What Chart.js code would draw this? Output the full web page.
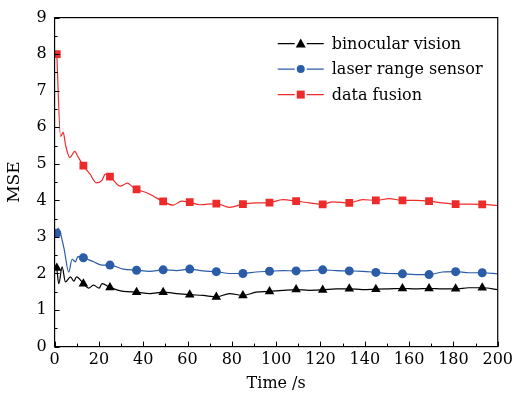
<!DOCTYPE html>
<html>
<head>
<meta charset="utf-8">
<script src="https://cdn.jsdelivr.net/npm/chart.js@4/dist/chart.umd.min.js"></script>
<style>
  html, body { margin: 0; padding: 0; background: #fff; }
  #wrap { width: 517px; height: 393px; }
</style>
</head>
<body>
<div id="wrap"><canvas id="mse-chart" width="517" height="393"></canvas></div>
<script>
// times where the markers sit
const markerTimes = [1, 13, 25, 37, 49, 61, 73, 85, 97, 109, 121, 133, 145, 157, 169, 181, 193];

const binocularTime = [1, 1.9, 3.4, 4.9, 7.2, 8.7, 9.9, 13, 15.4, 17.6, 20.1, 21.4, 25, 31, 37, 43, 49, 55, 61, 67, 73, 79, 85, 91, 97, 103, 109, 115, 121, 127, 133, 139, 145, 151, 157, 163, 169, 175, 181, 187, 193, 200];
const binocularMse = [2.15, 1.72, 2.18, 1.77, 1.91, 1.79, 1.91, 1.72, 1.6, 1.68, 1.6, 1.72, 1.62, 1.51, 1.49, 1.45, 1.49, 1.45, 1.42, 1.4, 1.36, 1.45, 1.4, 1.49, 1.51, 1.54, 1.56, 1.54, 1.55, 1.58, 1.58, 1.56, 1.57, 1.58, 1.59, 1.58, 1.59, 1.58, 1.58, 1.61, 1.61, 1.56];

const laserTime = [1, 1.6, 4.2, 6.4, 7.9, 9.4, 10.5, 13, 17.6, 21.4, 25, 31, 37, 43, 49, 55, 61, 67, 73, 79, 85, 91, 97, 103, 109, 115, 121, 127, 133, 139, 145, 151, 157, 163, 169, 175, 181, 187, 193, 200];
const laserMse = [3.1, 3.24, 2.7, 2.04, 2.39, 2.32, 2.46, 2.43, 2.32, 2.23, 2.23, 2.12, 2.09, 2.06, 2.1, 2.08, 2.12, 2.07, 2.05, 2.0, 2.0, 2.04, 2.06, 2.08, 2.07, 2.08, 2.1, 2.08, 2.07, 2.06, 2.03, 2.0, 1.99, 1.97, 1.97, 2.04, 2.05, 2.02, 2.02, 1.99];

const fusionTime = [1, 2.7, 3.9, 5, 6.9, 9.1, 10.5, 13, 16, 18.8, 21.4, 22.9, 25, 27, 29.6, 32.9, 34.8, 37, 41.6, 45, 49, 53.5, 57.3, 61, 65.5, 73, 79, 85, 91, 97, 103, 109, 115, 121, 125.5, 133, 139, 145, 151, 157, 163, 169, 175, 181, 187, 193, 200];
const fusionMse = [8.0, 5.75, 5.86, 5.5, 5.17, 5.34, 5.2, 4.95, 4.72, 4.48, 4.55, 4.72, 4.65, 4.52, 4.39, 4.47, 4.39, 4.3, 4.21, 4.1, 3.97, 3.87, 3.98, 3.95, 3.88, 3.91, 3.81, 3.9, 3.93, 3.94, 4.02, 3.98, 3.93, 3.89, 3.96, 3.93, 4.02, 4.0, 4.05, 4.0, 4.0, 3.98, 3.93, 3.9, 3.9, 3.89, 3.86];

const xTicks = [0, 20, 40, 60, 80, 100, 120, 140, 160, 180, 200];
const yTicks = [0, 1, 2, 3, 4, 5, 6, 7, 8, 9];
const seriesNames = ['binocular vision', 'laser range sensor', 'data fusion'];

const FONT = "'DejaVu Serif', serif";
const BLACK = '#000000';
const BLUE = '#2b5ca8';
const RED = '#ee2b2b';

function toPoints(xs, ys) {
  return xs.map(function (x, i) { return { x: x, y: ys[i] }; });
}

function markerRadius(r) {
  return function (ctx) {
    return (ctx.raw && markerTimes.indexOf(ctx.raw.x) >= 0) ? r : 0;
  };
}

function drawMarker(ctx, style, x, y, color) {
  ctx.fillStyle = color;
  ctx.beginPath();
  if (style === 'triangle') {
    ctx.moveTo(x, y - 5);
    ctx.lineTo(x + 5, y + 4);
    ctx.lineTo(x - 5, y + 4);
    ctx.closePath();
  } else if (style === 'circle') {
    ctx.arc(x, y, 4, 0, Math.PI * 2);
  } else {
    ctx.rect(x - 4, y - 4, 8, 8);
  }
  ctx.fill();
}

// frame, inward ticks and the legend
const framePlugin = {
  id: 'frame',
  afterDraw: function (chart) {
    const ctx = chart.ctx;
    const area = chart.chartArea;
    const xs = chart.scales.x;
    const ys = chart.scales.y;
    ctx.save();
    ctx.strokeStyle = '#000';
    ctx.lineWidth = 1.2;
    ctx.strokeRect(area.left, area.top, area.right - area.left, area.bottom - area.top);

    ctx.lineWidth = 1;
    ctx.beginPath();
    for (let v = 0; v <= 200; v += 10) {
      const px = Math.round(xs.getPixelForValue(v)) + 0.5;
      const len = (v % 20 === 0) ? 5 : 3;
      ctx.moveTo(px, area.bottom);
      ctx.lineTo(px, area.bottom - len);
    }
    for (let v = 0; v <= 9; v += 0.5) {
      const py = Math.round(ys.getPixelForValue(v)) + 0.5;
      const len = (v % 1 === 0) ? 5 : 3;
      ctx.moveTo(area.left, py);
      ctx.lineTo(area.left + len, py);
    }
    ctx.stroke();

    // legend
    const styles = ['triangle', 'circle', 'rect'];
    const colors = [BLACK, BLUE, RED];
    const x0 = area.right - 220;
    ctx.font = '16px ' + FONT;
    ctx.textBaseline = 'middle';
    ctx.textAlign = 'left';
    for (let i = 0; i < seriesNames.length; i++) {
      const y = area.top + 26 + i * 25.5;
      ctx.strokeStyle = colors[i];
      ctx.lineWidth = 1.2;
      ctx.beginPath();
      ctx.moveTo(x0, y);
      ctx.lineTo(x0 + 17, y);
      ctx.moveTo(x0 + 29, y);
      ctx.lineTo(x0 + 46, y);
      ctx.stroke();
      drawMarker(ctx, styles[i], x0 + 23, y, colors[i]);
      ctx.fillStyle = '#000';
      ctx.fillText(seriesNames[i], x0 + 54, y + 1);
    }
    ctx.restore();
  }
};

new Chart(document.getElementById('mse-chart'), {
  type: 'line',
  data: {
    datasets: [{
      label: seriesNames[0],
      data: toPoints(binocularTime, binocularMse),
      borderColor: BLACK,
      backgroundColor: BLACK,
      borderWidth: 1.2,
      pointStyle: 'triangle',
      pointRadius: markerRadius(5.5),
      pointBorderWidth: 0,
      cubicInterpolationMode: 'monotone'
    }, {
      label: seriesNames[1],
      data: toPoints(laserTime, laserMse),
      borderColor: BLUE,
      backgroundColor: BLUE,
      borderWidth: 1.2,
      pointStyle: 'circle',
      pointRadius: markerRadius(4.5),
      pointBorderWidth: 0,
      cubicInterpolationMode: 'monotone'
    }, {
      label: seriesNames[2],
      data: toPoints(fusionTime, fusionMse),
      borderColor: RED,
      backgroundColor: RED,
      borderWidth: 1.2,
      pointStyle: 'rect',
      pointRadius: markerRadius(5.5),
      pointBorderWidth: 0,
      cubicInterpolationMode: 'monotone'
    }]
  },
  options: {
    responsive: false,
    animation: false,
    layout: { padding: { top: 12, right: 4, left: 4, bottom: 0 } },
    scales: {
      x: {
        type: 'linear',
        min: 0,
        max: 200,
        afterBuildTicks: function (axis) { axis.ticks = xTicks.map(function (v) { return { value: v }; }); },
        grid: { display: false, drawTicks: false },
        border: { display: false },
        ticks: { color: '#000', font: { family: FONT, size: 16 }, padding: 4, maxRotation: 0 },
        title: { display: true, text: 'Time /s', color: '#000', font: { family: FONT, size: 16 }, padding: { top: 0, bottom: 0 } }
      },
      y: {
        type: 'linear',
        min: 0,
        max: 9,
        afterBuildTicks: function (axis) { axis.ticks = yTicks.map(function (v) { return { value: v }; }); },
        grid: { display: false, drawTicks: false },
        border: { display: false },
        ticks: { color: '#000', font: { family: FONT, size: 16 }, padding: 8 },
        title: { display: true, text: 'MSE', color: '#000', font: { family: FONT, size: 17 }, padding: { top: 0, bottom: 4 } }
      }
    },
    plugins: {
      legend: { display: false },
      tooltip: { enabled: false }
    }
  },
  plugins: [framePlugin]
});
</script>
</body>
</html>
